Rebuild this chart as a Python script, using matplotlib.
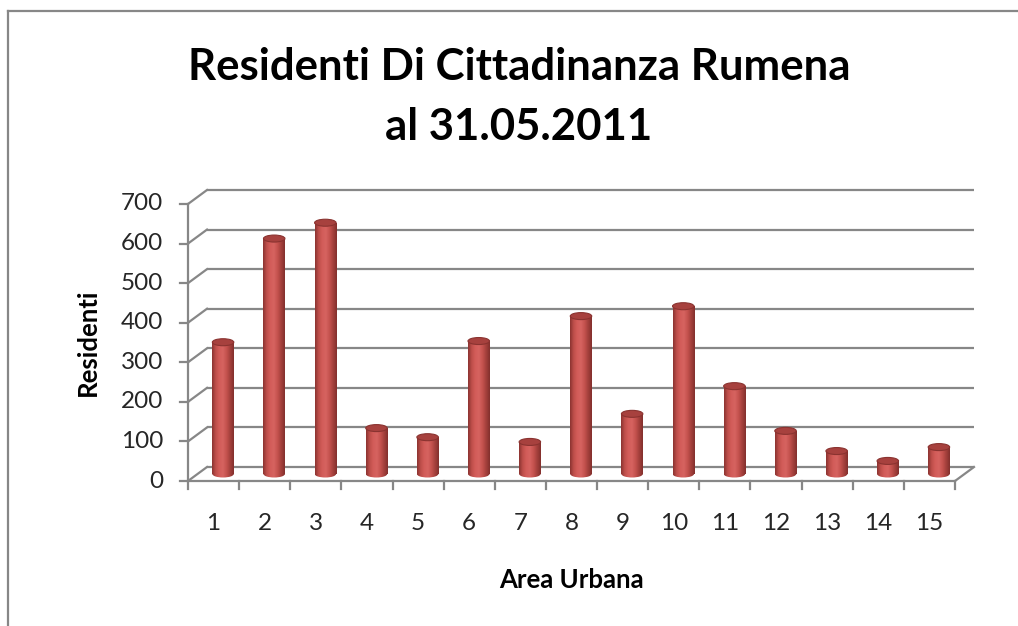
import numpy as np
import matplotlib
matplotlib.use("Agg")
import matplotlib.pyplot as plt
from matplotlib.patches import Ellipse, Rectangle
from matplotlib.colors import LinearSegmentedColormap

plt.rcParams['font.family'] = ['Lato', 'DejaVu Sans']

# data
aree = [str(i) for i in range(1, 16)]
residenti = [333, 595, 635, 116, 93, 336, 81, 399, 152, 424, 222, 109, 58, 33, 68]
y_ticks = [0, 100, 200, 300, 400, 500, 600, 700]

W, H = 1018, 626
fig = plt.figure(figsize=(W / 100, H / 100), dpi=100)

# front plane of the 3d box
ax = fig.add_axes([188 / W, (H - 481) / H, (955 - 188) / W, (481 - 204) / H])
n = len(aree)
ax.set_xlim(0.5, n + 0.5)
ax.set_ylim(0, 700)
ax.axis('off')

# depth of the box, in data units (19 px right, 14 px up)
px_x = (955 - 188) / n
px_y = (481 - 204) / 700
dx = 19 / px_x
dy = 14 / px_y

grid_c = '#878787'
txt_c = '#262626'
lw = 1.6
x0, x1 = 0.5, n + 0.5

# back wall grid + left wall diagonals
for t in y_ticks:
    ax.plot([x0 + dx, x1 + dx], [t + dy, t + dy], color=grid_c, lw=lw, clip_on=False,
            solid_capstyle='butt', zorder=1)
    ax.plot([x0, x0 + dx], [t, t + dy], color=grid_c, lw=lw, clip_on=False, zorder=1)
    # tick marks on value axis
    ax.plot([x0 - 8 / px_x, x0], [t, t], color=grid_c, lw=lw, clip_on=False, zorder=1)
    ax.text(x0 - 25 / px_x, t, str(t), ha='right', va='center', fontsize=17.5,
            color=txt_c)

# value axis + floor
ax.plot([x0, x0], [0, 700], color=grid_c, lw=lw, clip_on=False, zorder=1)
ax.plot([x0, x1], [0, 0], color=grid_c, lw=lw, clip_on=False, zorder=1)
ax.plot([x1, x1 + dx], [0, dy], color=grid_c, lw=lw, clip_on=False, zorder=1)
for k in range(n + 1):
    ax.plot([x0 + k, x0 + k], [0, -8 / px_y], color=grid_c, lw=lw, clip_on=False, zorder=1)

# cylinders
cmap = LinearSegmentedColormap.from_list(
    'cyl', ['#8c3431', '#bf4f4b', '#d35d59', '#d66360', '#c4524e', '#a4403c', '#83302d'])
grad = np.linspace(0, 1, 64).reshape(1, -1)
bw = 0.42
eh = 7 / px_y
for i, v in enumerate(residenti):
    cx = i + 1 + dx / 2
    b = dy / 2
    top = v + dy / 2
    body = Rectangle((cx - bw / 2, b), bw, top - b, transform=ax.transData)
    im = ax.imshow(grad, cmap=cmap, aspect='auto', extent=(cx - bw / 2, cx + bw / 2, b, top),
                   zorder=3)
    im.set_clip_path(body)
    base = Ellipse((cx, b), bw, eh, transform=ax.transData)
    im2 = ax.imshow(grad, cmap=cmap, aspect='auto',
                    extent=(cx - bw / 2, cx + bw / 2, b - eh, b + eh), zorder=3)
    im2.set_clip_path(base)
    ax.add_patch(Ellipse((cx, top), bw, eh, facecolor='#a7413e', edgecolor='#8a3330',
                         lw=0.8, zorder=4))
    ax.text(i + 1, -42 / px_y, aree[i], ha='center', va='center', fontsize=17.5,
            color=txt_c)

ax.set_xlim(0.5, n + 0.5)
ax.set_ylim(0, 700)

# titles and axis labels
fig.text(519 / W, 1 - 80 / H, 'Residenti Di Cittadinanza Rumena', ha='center',
         va='baseline', fontsize=31.5, fontweight='bold')
fig.text(519 / W, 1 - 140 / H, 'al 31.05.2011', ha='center', va='baseline',
         fontsize=31.5, fontweight='bold')
fig.text(88 / W, 1 - 342 / H, 'Residenti', rotation=90, ha='center', va='center',
         fontsize=18.5, fontweight='bold')
fig.text(571 / W, 1 - 580 / H, 'Area Urbana', ha='center', va='center',
         fontsize=18.5, fontweight='bold')

# chart border (only top and left visible)
fig.add_artist(plt.Line2D([8 / W, 8 / W], [0, 1 - 11 / H], color='#878787', lw=1.6))
fig.add_artist(plt.Line2D([8 / W, 1], [1 - 11 / H, 1 - 11 / H], color='#878787', lw=1.6))

fig.savefig('out.png', dpi=100)
